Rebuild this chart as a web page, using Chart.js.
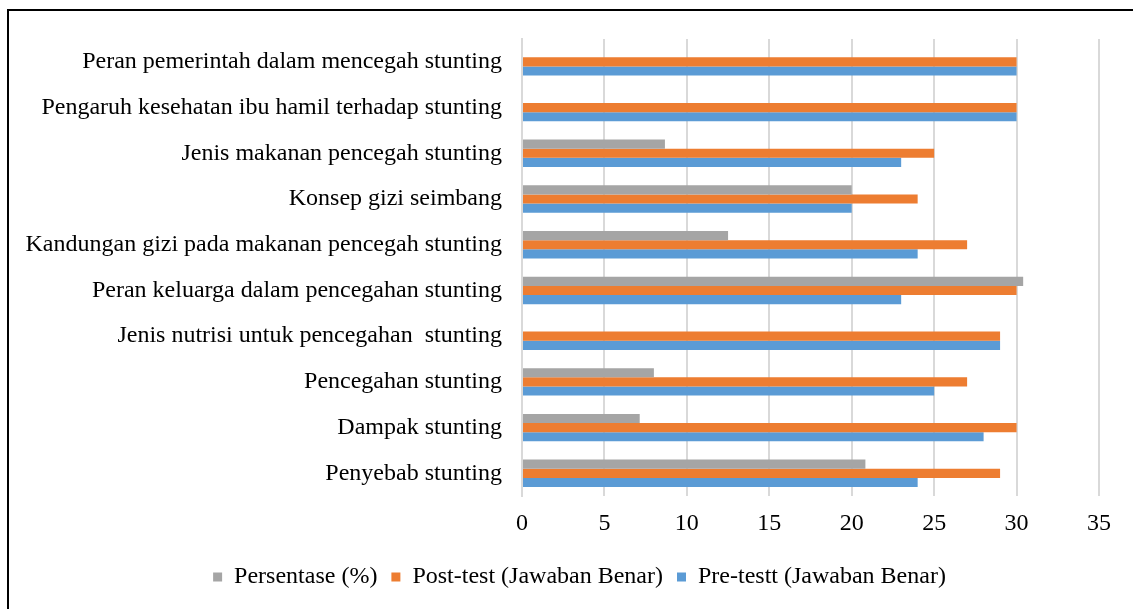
<!DOCTYPE html>
<html>
<head>
<meta charset="utf-8">
<script src="https://cdn.jsdelivr.net/npm/chart.js@4.4.1/dist/chart.umd.min.js"></script>
<style>
    html, body { margin: 0; padding: 0; background: #fff; }
    #frame {
        position: absolute; left: 7px; top: 9px; width: 1140px; height: 620px;
        border-left: 2px solid #000; border-top: 2px solid #000;
    }
    #wrap { position: absolute; left: 0; top: 0; width: 1133px; height: 609px; }
</style>
</head>
<body>
<div id="frame"></div>
<div id="wrap"><canvas id="chart" width="1133" height="609"></canvas></div>
<script>
// ==================== DONNÉES ====================
const categories = [
    "Peran pemerintah dalam mencegah stunting",
    "Pengaruh kesehatan ibu hamil terhadap stunting",
    "Jenis makanan pencegah stunting",
    "Konsep gizi seimbang",
    "Kandungan gizi pada makanan pencegah stunting",
    "Peran keluarga dalam pencegahan stunting",
    "Jenis nutrisi untuk pencegahan  stunting",
    "Pencegahan stunting",
    "Dampak stunting",
    "Penyebab stunting"
];
const persentase = [0, 0, 8.67, 20, 12.5, 30.4, 0, 8, 7.14, 20.83];
const postTest = [30, 30, 25, 24, 27, 30, 29, 27, 30, 29];
const preTest = [30, 30, 23, 20, 24, 23, 29, 25, 28, 24];
const xTicks = [0, 5, 10, 15, 20, 25, 30, 35];

const FONT = "'Liberation Serif', 'Times New Roman', serif";

// décale la légende vers la droite (centrée sous la zone du graphique comme dans Excel)
const legendShift = {
    id: "legendShift",
    afterLayout(chart) {
        const lg = chart.legend;
        if (!lg) return;
        lg.left += 30;
        lg.right += 30;
    }
};

const ctx = document.getElementById("chart").getContext("2d");
new Chart(ctx, {
    type: "bar",
    data: {
        labels: categories,
        datasets: [
            { label: "Persentase (%)", data: persentase, backgroundColor: "#A5A5A5" },
            { label: "Post-test (Jawaban Benar)", data: postTest, backgroundColor: "#ED7D31" },
            { label: "Pre-testt (Jawaban Benar)", data: preTest, backgroundColor: "#5B9BD5" }
        ]
    },
    options: {
        indexAxis: "y",
        responsive: false,
        animation: false,
        categoryPercentage: 0.6,
        barPercentage: 1.0,
        layout: { padding: { top: 39, right: 34, bottom: 10, left: 0 } },
        plugins: {
            tooltip: { enabled: false },
            legend: {
                position: "bottom",
                labels: {
                    color: "#000",
                    font: { family: FONT, size: 24 },
                    boxWidth: 9,
                    boxHeight: 9,
                    padding: 14
                }
            }
        },
        scales: {
            x: {
                min: 0,
                max: 35,
                afterBuildTicks: (scale) => { scale.ticks = xTicks.map(v => ({ value: v })); },
                ticks: { color: "#000", font: { family: FONT, size: 24 }, padding: 13 },
                grid: { color: "#D9D9D9", lineWidth: 2, drawTicks: false },
                border: { display: false }
            },
            y: {
                afterFit: (scale) => { scale.width = 522; },
                ticks: { color: "#000", font: { family: FONT, size: 24 }, padding: 20 },
                grid: { display: false, drawTicks: false },
                border: { color: "#D9D9D9", width: 2 }
            }
        }
    },
    plugins: [legendShift]
});
</script>
</body>
</html>
